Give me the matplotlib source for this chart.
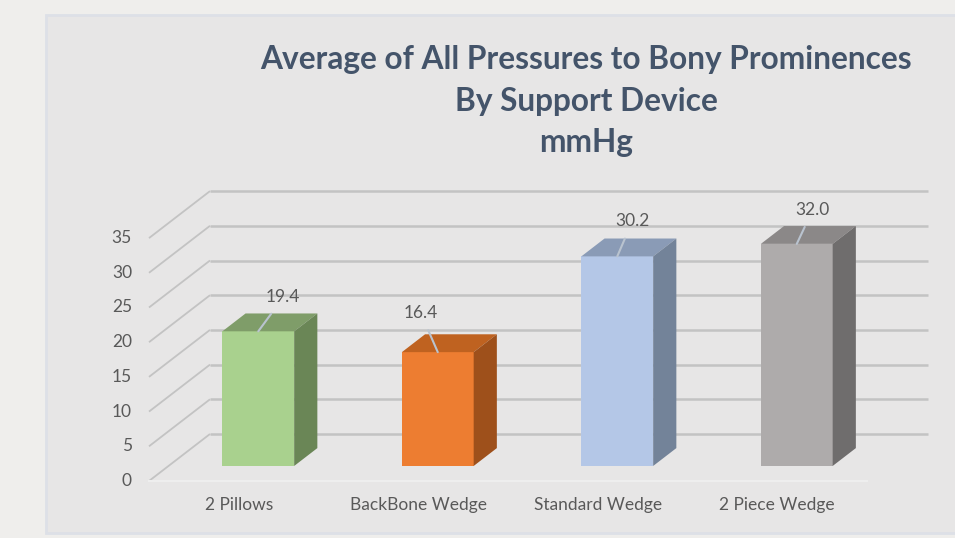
"""
Average of all pressures to bony prominences, pseudo 3D column chart
"""

import matplotlib

matplotlib.use("Agg")
import matplotlib.pyplot as plt
from matplotlib.patches import Polygon, Rectangle

# 数据
devices = ["2 Pillows", "BackBone Wedge", "Standard Wedge", "2 Piece Wedge"]
pressures = [19.4, 16.4, 30.2, 32.0]
y_ticks = [0, 5, 10, 15, 20, 25, 30, 35]
title_lines = ["Average of All Pressures to Bony Prominences", "By Support Device", "mmHg"]

# 颜色: 正面, 顶面, 侧面
front_colors = ["#a9d18e", "#ed7d31", "#b4c7e7", "#aeabab"]
top_colors = ["#7f9d69", "#bf6220", "#8a9bb6", "#8b8888"]
side_colors = ["#6a8656", "#9e501b", "#738399", "#6f6d6d"]
# 数据标签偏移 (像素, 向上为正)
label_offsets = [(25, 34), (-17, 39), (15, 35), (16, 34)]

W, H, DPI = 955, 538, 100
PX_X = 179.5  # 每个类别的像素宽度
PX_Y = 6.94  # 每个数值单位的像素高度
FRONT_LEFT = 149  # 前平面左边界 (像素)
FRONT_BASE = 481  # 前平面 0 的位置 (像素, 从上往下)

# 斜投影的深度向量 (数据单位)
DEPTH_X = 61 / PX_X
DEPTH_Y = 47 / PX_Y
BAR_D0, BAR_D1 = 0.32, 0.70  # 柱子占据的深度范围
BAR_W = 0.4

plt.rcParams["font.family"] = ["Lato", "DejaVu Sans"]

fig = plt.figure(figsize=(W / DPI, H / DPI), dpi=DPI, facecolor="#efeeec")
fig.patches.append(
    Rectangle(
        (46 / W, 5 / H),
        1.0,
        (533 - 15) / H,
        transform=fig.transFigure,
        facecolor="#e7e6e6",
        edgecolor="#dde0e7",
        linewidth=2,
        zorder=-5,
    )
)

ax = fig.add_axes([0, 0, 1, 1])
ax.set_axis_off()
ax.patch.set_alpha(0)
ax.set_zorder(2)
x_left = -0.5 - FRONT_LEFT / PX_X
ax.set_xlim(x_left, x_left + W / PX_X)
ax.set_ylim(-(H - FRONT_BASE) / PX_Y, FRONT_BASE / PX_Y)

n = len(devices)
grid_c = "#c3c3c3"

# 网格线: 斜线 + 后墙水平线
for v in y_ticks:
    ax.plot(
        [-0.5, -0.5 + DEPTH_X],
        [v, v + DEPTH_Y],
        color=grid_c,
        lw=1.3,
        zorder=1,
        solid_capstyle="butt",
    )
    ax.plot(
        [-0.5 + DEPTH_X, n - 0.5 + DEPTH_X],
        [v + DEPTH_Y, v + DEPTH_Y],
        color=grid_c,
        lw=1.8,
        zorder=1,
        solid_capstyle="butt",
    )
    ax.annotate(
        str(v),
        (-0.5, v),
        xytext=(-17, 0),
        textcoords="offset pixels",
        ha="right",
        va="center",
        fontsize=12.5,
        color="#595959",
    )

# 地板前沿
ax.plot([-0.5, n - 0.5], [0, 0], color="#eeeeee", lw=1.5, zorder=1)

# 柱子
for i, v in enumerate(pressures):
    x0 = i - BAR_W / 2 + BAR_D0 * DEPTH_X
    x1 = i + BAR_W / 2 + BAR_D0 * DEPTH_X
    b = BAR_D0 * DEPTH_Y
    dx = (BAR_D1 - BAR_D0) * DEPTH_X
    dy = (BAR_D1 - BAR_D0) * DEPTH_Y
    front = Polygon(
        [(x0, b), (x1, b), (x1, b + v), (x0, b + v)],
        facecolor=front_colors[i],
        edgecolor="none",
        zorder=3,
    )
    top = Polygon(
        [(x0, b + v), (x1, b + v), (x1 + dx, b + v + dy), (x0 + dx, b + v + dy)],
        facecolor=top_colors[i],
        edgecolor="none",
        zorder=3,
    )
    side = Polygon(
        [(x1, b), (x1 + dx, b + dy), (x1 + dx, b + v + dy), (x1, b + v)],
        facecolor=side_colors[i],
        edgecolor="none",
        zorder=3,
    )
    for p in (front, top, side):
        ax.add_patch(p)

    # 数据标签 + 引导线
    ax.annotate(
        f"{v:.1f}",
        ((x0 + x1) / 2, b + v),
        xytext=label_offsets[i],
        textcoords="offset pixels",
        ha="center",
        va="center",
        fontsize=12.5,
        color="#595959",
        zorder=5,
        arrowprops=dict(
            arrowstyle="-", color="#b9c3cf", lw=1.5, shrinkA=5, shrinkB=0
        ),
    )

    # 类别标签
    ax.annotate(
        devices[i],
        (i, 0),
        xytext=(0, -24),
        textcoords="offset pixels",
        ha="center",
        va="center",
        fontsize=12.5,
        color="#595959",
    )

# 标题
for k, line in enumerate(title_lines):
    fig.text(
        586 / W,
        1 - (60 + 41 * k) / H,
        line,
        ha="center",
        va="center",
        fontsize=22.8,
        fontweight="bold",
        color="#44546a",
    )

fig.savefig("out.png", dpi=DPI, facecolor=fig.get_facecolor())
